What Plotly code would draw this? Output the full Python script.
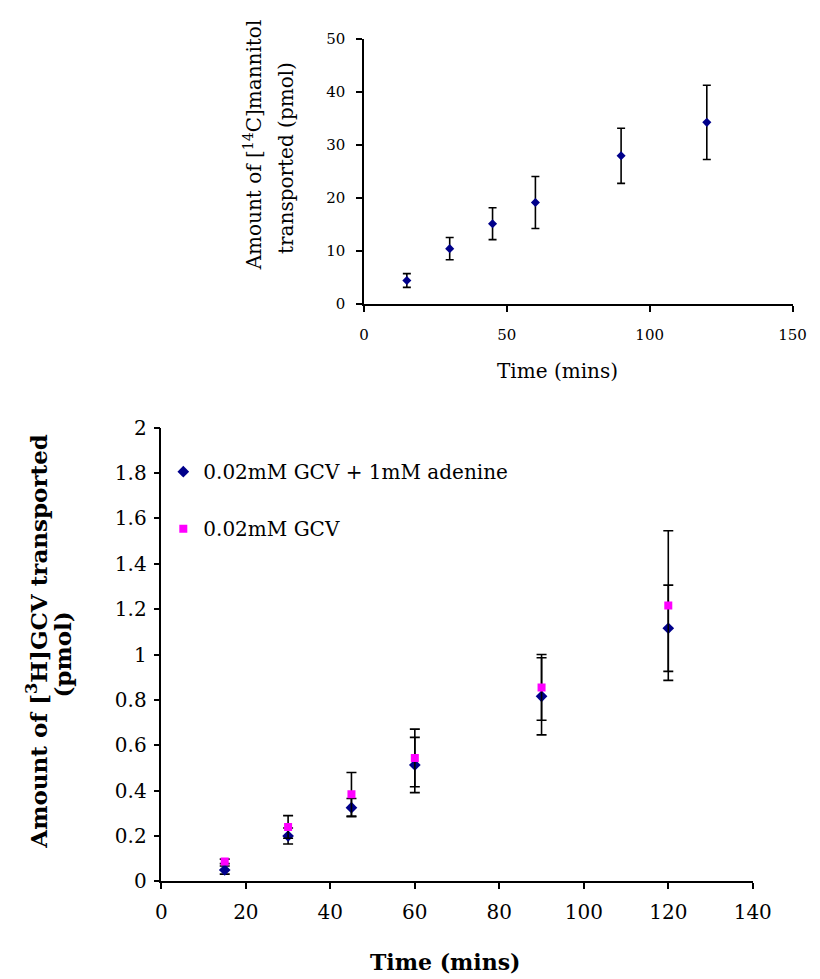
import plotly.graph_objects as go

# ---------------- data ----------------
# Top chart: [14C]mannitol
man_time = [15, 30, 45, 60, 90, 120]
man_amount = [4.4, 10.4, 15.1, 19.1, 27.9, 34.2]
man_err = [1.3, 2.1, 3.0, 4.9, 5.2, 7.0]

# Bottom chart: [3H]GCV
gcv_time = [15, 30, 45, 60, 90, 120]
gcv_aden = [0.05, 0.20, 0.325, 0.513, 0.816, 1.116]
gcv_aden_err = [0.018, 0.035, 0.04, 0.122, 0.17, 0.19]
gcv_only = [0.088, 0.24, 0.384, 0.544, 0.855, 1.216]
gcv_only_err = [0.01, 0.05, 0.096, 0.127, 0.145, 0.33]

top_xticks = [0, 50, 100, 150]
top_yticks = [0, 10, 20, 30, 40, 50]
bot_xticks = [0, 20, 40, 60, 80, 100, 120, 140]
bot_yticks = [0, 0.2, 0.4, 0.6, 0.8, 1.0, 1.2, 1.4, 1.6, 1.8, 2.0]
bot_yticktext = ["0", "0.2", "0.4", "0.6", "0.8", "1", "1.2", "1.4", "1.6", "1.8", "2"]

name_aden = "0.02mM GCV + 1mM adenine"
name_only = "0.02mM GCV"

# ---------------- layout helpers ----------------
W, H = 820, 979
FONT = "DejaVu Serif"
def px(x):
    return x / W
def py(y):
    return 1 - y / H

fig = go.Figure()

# top chart
fig.add_trace(go.Scatter(
    x=man_time, y=man_amount, mode="markers", xaxis="x2", yaxis="y2",
    marker=dict(symbol="diamond", size=7, color="#00008B"),
    error_y=dict(type="data", array=man_err, color="black", thickness=1.6, width=4),
    showlegend=False,
))

# bottom chart
fig.add_trace(go.Scatter(
    x=gcv_time, y=gcv_aden, mode="markers", name=name_aden, legendgroup="a",
    marker=dict(symbol="diamond", size=9, color="#00008B"),
    error_y=dict(type="data", array=gcv_aden_err, color="black", thickness=1.6, width=5),
))
fig.add_trace(go.Scatter(
    x=gcv_time, y=gcv_only, mode="markers", name=name_only, legendgroup="b",
    marker=dict(symbol="square", size=8, color="#FF00FF"),
    error_y=dict(type="data", array=gcv_only_err, color="black", thickness=1.6, width=5),
))

axis_common = dict(showline=True, linecolor="black", linewidth=1.5, showgrid=False,
                   zeroline=False, ticks="outside", ticklen=6, tickwidth=1.5,
                   tickcolor="black", mirror=False)

fig.update_layout(
    width=W, height=H,
    margin=dict(l=0, r=0, t=0, b=0),
    paper_bgcolor="white", plot_bgcolor="white",
    font=dict(family=FONT, color="black"),
    showlegend=True,
    legend=dict(x=px(154), y=py(443), xanchor="left", yanchor="top",
                font=dict(family=FONT, size=20, color="black"),
                bgcolor="rgba(0,0,0,0)", tracegroupgap=28, traceorder="grouped"),
    xaxis=dict(domain=[px(152), px(762)], range=[0, 140], tickvals=bot_xticks,
               tickfont=dict(family=FONT, size=20), ticklabelstandoff=6,
               anchor="y", **axis_common),
    yaxis=dict(domain=[py(883), py(418)], range=[0, 2], tickvals=bot_yticks,
               ticktext=bot_yticktext, tickfont=dict(family=FONT, size=20),
               ticklabelstandoff=3, anchor="x", **axis_common),
    xaxis2=dict(domain=[px(361), px(803)], range=[0, 150], tickvals=top_xticks,
                tickfont=dict(family=FONT, size=15), ticklabelstandoff=10,
                anchor="y2", **axis_common),
    yaxis2=dict(domain=[py(291), py(19)], range=[0, 50], tickvals=top_yticks,
                tickfont=dict(family=FONT, size=15), ticklabelstandoff=8,
                anchor="x2", **axis_common),
)

ann = [
    # top chart titles
    dict(text="Amount of [<sup>14</sup>C]mannitol", x=px(246), y=py(128), textangle=-90,
         font=dict(family=FONT, size=20)),
    dict(text="transported (pmol)", x=px(280), y=py(141), textangle=-90,
         font=dict(family=FONT, size=20)),
    dict(text="Time (mins)", x=px(561), y=py(360), font=dict(family=FONT, size=20)),
    # bottom chart titles
    dict(text="<b>Amount of [<sup>3</sup>H]GCV transported</b>", x=px(24), y=py(637),
         textangle=-90, font=dict(family=FONT, size=23)),
    dict(text="<b>(pmol)</b>", x=px(50), y=py(650), textangle=-90,
         font=dict(family=FONT, size=23)),
    dict(text="<b>Time (mins)</b>", x=px(445), y=py(966), font=dict(family=FONT, size=22)),
]
for a in ann:
    fig.add_annotation(xref="paper", yref="paper", showarrow=False,
                       xanchor="center", yanchor="middle", **a)

fig.write_html("out.html")
